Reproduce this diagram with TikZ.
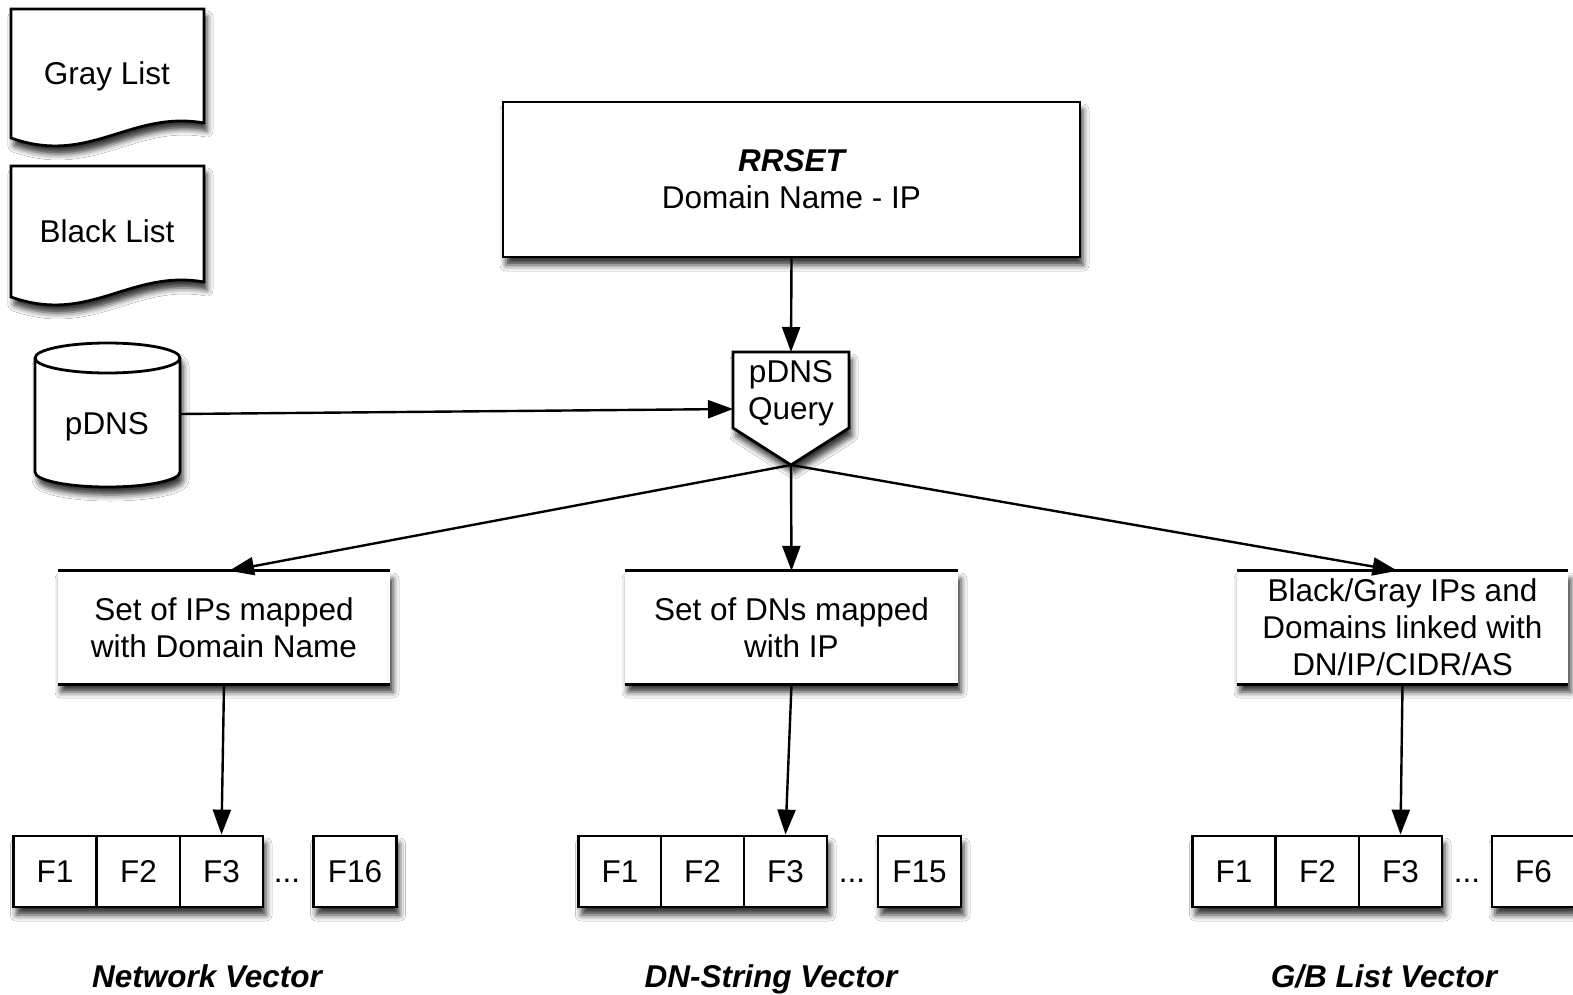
\documentclass[tikz,border=0pt]{standalone}
\usepackage{fontspec}
\setmainfont{Liberation Sans}
\usetikzlibrary{arrows.meta,calc,shadows.blur}
\tikzset{
  sh/.style={blur shadow={shadow xshift=3pt,shadow yshift=-8pt,shadow blur radius=6pt,shadow opacity=80}},
  txt/.style={font=\fontsize{31.5}{37}\selectfont, inner sep=0pt, align=center},
  box/.style={draw, line width=2.8pt, fill=white, sh},
  plainbox/.style={fill=white, sh, inner sep=0pt},
  bar/.style={line width=3.2pt},
  arr/.style={line width=2.4pt, -{Triangle[length=25pt,width=18pt,fill=black]}},
  fcell/.style={draw, line width=2.8pt, fill=white, minimum width=83pt, minimum height=71pt, inner sep=0pt,
    font=\fontsize{31.5}{37}\selectfont, text height=22.5pt, text depth=0pt},
  dots/.style={inner sep=0pt, font=\fontsize{31.5}{37}\selectfont, text height=22.5pt, text depth=0pt},
  lab/.style={inner sep=0pt, font=\fontsize{31.5}{37}\selectfont\bfseries\itshape},
}
\begin{document}
\begin{tikzpicture}[x=1pt,y=-1pt]
\useasboundingbox (0,0) rectangle (1573,995);
\fill[white] (0,0) rectangle (1573,995);

% feature row group shadows (drawn first, under the cells)
\path[fill=white, sh] (13.5,836) rectangle (263,907);
\path[fill=white, sh] (578.5,836) rectangle (827,907);
\path[fill=white, sh] (1192.5,836) rectangle (1442,907);

% documents
\filldraw[box] (11,9) -- (204,9) -- (204,123) .. controls (130,110) and (90,166) .. (11,138) -- cycle;
\node[txt] (gray) at (107,76) {Gray List};
\filldraw[box] (11,166) -- (204,166) -- (204,282) .. controls (130,269) and (90,325) .. (11,297) -- cycle;
\node[txt] (black) at (107,231) {Black List};

% cylinder
\filldraw[box] (35,358) -- (35,472) arc[start angle=180,end angle=360,x radius=72.5pt,y radius=15pt]
  -- (180,358) arc[start angle=0,end angle=180,x radius=72.5pt,y radius=15pt] -- cycle;
\draw[line width=2.8pt] (35,358) arc[start angle=180,end angle=360,x radius=72.5pt,y radius=15pt];
\node[txt] (pdns) at (107,427) {pDNS};
\coordinate (pdnsE) at (180,414);

% RRSET
\node[box, txt, minimum width=577pt, minimum height=155pt] (rr) at (791.5,179.5)
  {{\bfseries\itshape RRSET}\\Domain Name - IP};

% pDNS query
\filldraw[box] (733,352) -- (849,352) -- (849,428) -- (791,465) -- (733,428) -- cycle;
\coordinate (qtop) at (791,352);
\coordinate (qW) at (733,409);
\coordinate (qtip) at (791,465);
\node[txt] (q) at (791,393.5) {pDNS\\Query};

% set boxes
\node[plainbox, txt, minimum width=332pt, minimum height=113pt] (s1) at (224,627.5) {Set of IPs mapped\\with Domain Name};
\node[plainbox, txt, minimum width=333pt, minimum height=113pt] (s2) at (791.5,627.5) {Set of DNs mapped\\with IP};
\node[plainbox, txt, minimum width=331pt, minimum height=113pt] (s3) at (1402.5,627.5) {Black/Gray IPs and\\Domains linked with\\DN/IP/CIDR/AS};
\foreach \s in {s1,s2,s3}{
  \draw[bar] (\s.north west) -- (\s.north east);
  \draw[bar] (\s.south west) -- (\s.south east);
}

% feature rows
\node[fcell] (l1) at (55,871.5) {F1};
\node[fcell] (l2) at (138.5,871.5) {F2};
\node[fcell] (l3) at (221.5,871.5) {F3};
\node[dots] (ld) at (287,871.5) {...};
\node[fcell, sh] (l16) at (355,871.5) {F16};

\node[fcell] (m1) at (620,871.5) {F1};
\node[fcell] (m2) at (702.5,871.5) {F2};
\node[fcell] (m3) at (785.5,871.5) {F3};
\node[dots] (md) at (852,871.5) {...};
\node[fcell, sh] (m15) at (919.5,871.5) {F15};

\node[fcell] (r1) at (1234,871.5) {F1};
\node[fcell] (r2) at (1317.5,871.5) {F2};
\node[fcell] (r3) at (1400.5,871.5) {F3};
\node[dots] (rd) at (1467,871.5) {...};
\node[fcell, sh] (r6) at (1533.5,871.5) {F6};

% labels
\node[lab] (nv) at (207,976) {Network Vector};
\node[lab] (dv) at (771,979) {DN-String Vector};
\node[lab] (gv) at (1384,976) {G/B List Vector};

% connectors
\draw[arr] (rr.south) -- (qtop);
\draw[arr] (pdnsE) -- (qW);
\draw[arr] (qtip) -- ($(s1.north)+(5,0)$);
\draw[arr] (qtip) -- (s2.north);
\draw[arr] (qtip) -- ($(s3.north)+(-5,0)$);
\draw[arr] (s1.south) -- (l3.north);
\draw[arr] (s2.south) -- (m3.north);
\draw[arr] (s3.south) -- (r3.north);
\end{tikzpicture}
\end{document}
